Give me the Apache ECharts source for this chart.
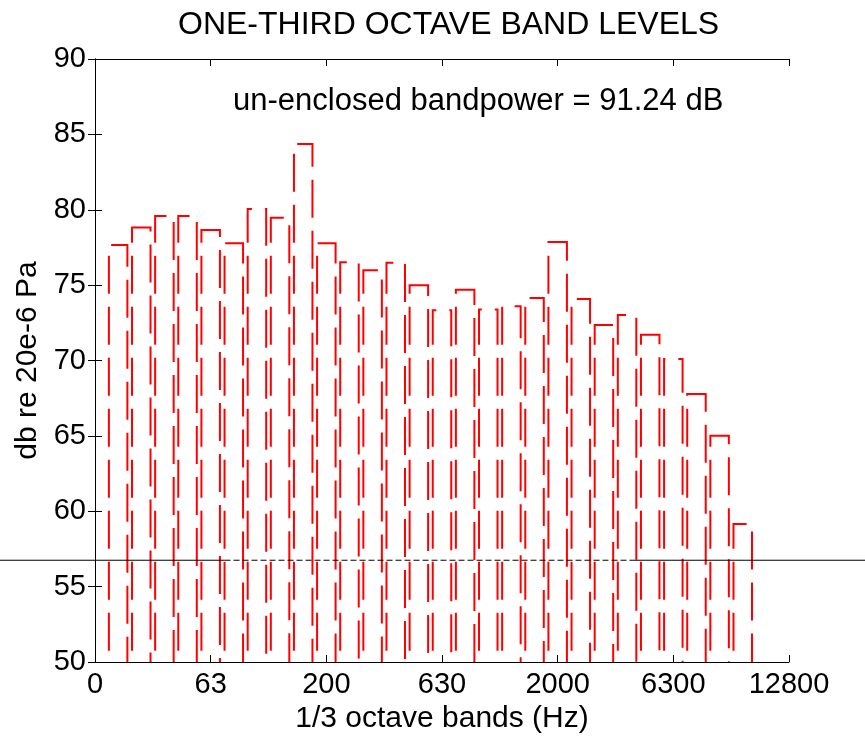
<!DOCTYPE html>
<html><head><meta charset="utf-8">
<script src="https://cdn.jsdelivr.net/npm/echarts@6/dist/echarts.min.js"></script>
<style>html,body{margin:0;padding:0;background:#fff}#chart{width:865px;height:746px}</style>
</head><body><div id="chart"></div>
<script>
// ---- data ----
const bandIndex = [1,2,3,4,5,6,7,8,9,10,11,12,13,14,15,16,17,18,19,20,21,22,23,24,25,26,27,28];
const bandLevels = [77.66,78.83,79.58,79.58,78.65,77.77,80.05,79.47,84.36,77.77,76.51,75.98,76.49,75.0,73.33,74.7,73.38,73.6,74.14,77.86,74.08,72.35,73.02,71.71,70.1,67.78,65.01,59.16];
const xTickLabels = ['0','63','200','630','2000','6300','12800'];
const thresholdLevel = 56.75;
const thresholdDashedRange = [5.6, 23.25];
const titleText = 'ONE-THIRD OCTAVE BAND LEVELS';
const annotationText = 'un-enclosed bandpower = 91.24 dB';
const xName = '1/3 octave bands (Hz)';
const yName = 'db re 20e-6 Pa';

const FONT = 'Liberation Sans, Arial, Helvetica, sans-serif';
const chart = echarts.init(document.getElementById('chart'), null, {renderer:'canvas'});
const seriesData = bandIndex.map((b, i) => [b, bandLevels[i]]);
const axisLineStyle = {show:true, lineStyle:{color:'#000', width:1}};
const tickStyle = {show:true, inside:true, length:7, lineStyle:{color:'#000', width:1}};

const option = {
  animation:false,
  backgroundColor:'#fff',
  title:[
    {text:titleText, left:173, top:4, textStyle:{fontFamily:FONT, fontSize:32, fontWeight:'normal', color:'#000'}},
    {text:annotationText, left:228, top:81, textStyle:{fontFamily:FONT, fontSize:31, fontWeight:'normal', color:'#000'}}
  ],
  grid:{left:95, right:76, top:59, bottom:84, containLabel:false},
  xAxis:[
    {type:'value', position:'bottom', min:0, max:30, interval:5,
     axisLine:axisLineStyle, axisTick:tickStyle, splitLine:{show:false},
     axisLabel:{margin:8, color:'#000', fontFamily:FONT, fontSize:29,
       formatter:(v)=>xTickLabels[Math.round(v/5)]},
     name:xName, nameLocation:'middle', nameGap:40,
     nameTextStyle:{fontFamily:FONT, fontSize:30, color:'#000'}},
    {type:'value', position:'top', min:0, max:30, interval:5,
     axisLine:axisLineStyle, axisTick:tickStyle, splitLine:{show:false}, axisLabel:{show:false}}
  ],
  yAxis:[
    {type:'value', position:'left', min:50, max:90, interval:5,
     axisLine:axisLineStyle, axisTick:tickStyle, splitLine:{show:false},
     axisLabel:{margin:9, color:'#000', fontFamily:FONT, fontSize:29},
     name:yName, nameLocation:'middle', nameGap:50,
     nameTextStyle:{fontFamily:FONT, fontSize:30, color:'#000'}},
    {type:'value', position:'right', min:50, max:90, interval:5,
     axisLine:axisLineStyle, axisTick:tickStyle, splitLine:{show:false}, axisLabel:{show:false}}
  ],
  series:[{
    type:'custom', xAxisIndex:0, yAxisIndex:0, clip:true,
    encode:{x:0, y:1},
    data:seriesData,
    renderItem:function(params, api){
      const x = api.value(0), v = api.value(1);
      const half = 0.4, base = 50;
      const p0 = api.coord([x-half, base]);
      const p1 = api.coord([x-half, v]);
      const p2 = api.coord([x+half, v]);
      const p3 = api.coord([x+half, base]);
      const offset = api.size([0, base])[1];
      return {type:'polyline', shape:{points:[p0,p1,p2,p3]},
        style:{stroke:'#ff0000', lineWidth:2, fill:null, lineDash:[38,13], lineDashOffset:offset}};
    }
  }]
};
chart.setOption(option);

const ty = chart.convertToPixel({yAxisIndex:0}, thresholdLevel);
const xa = chart.convertToPixel({xAxisIndex:0}, thresholdDashedRange[0]);
const xb = chart.convertToPixel({xAxisIndex:0}, thresholdDashedRange[1]);
const W = chart.getWidth();
chart.setOption({graphic:[
  {type:'line', z:100, silent:true, shape:{x1:0, y1:ty, x2:xa, y2:ty}, style:{stroke:'#000', lineWidth:1}},
  {type:'line', z:100, silent:true, shape:{x1:xa, y1:ty, x2:xb, y2:ty}, style:{stroke:'#000', lineWidth:1, lineDash:[6,3]}},
  {type:'line', z:100, silent:true, shape:{x1:xb, y1:ty, x2:W, y2:ty}, style:{stroke:'#000', lineWidth:1}}
]});
</script></body></html>
